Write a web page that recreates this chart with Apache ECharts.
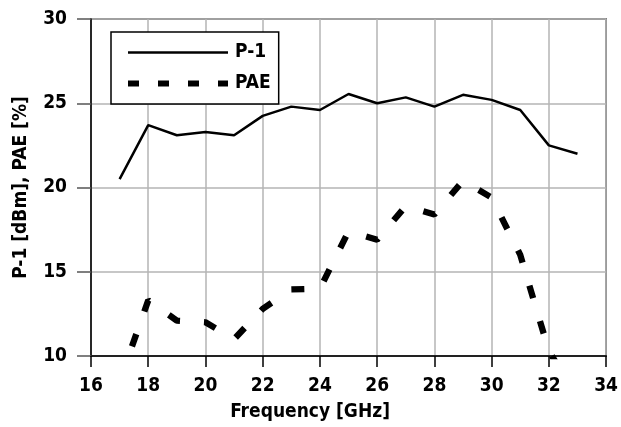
<!DOCTYPE html>
<html>
<head>
<meta charset="utf-8">
<script src="https://cdn.jsdelivr.net/npm/echarts@6/dist/echarts.min.js"></script>
<style>
html,body{margin:0;padding:0;background:#fff;}
#chart{width:621px;height:427px;}
</style>
</head>
<body>
<div id="chart"></div>
<script>
const FONT = "'DejaVu Sans Condensed', 'DejaVu Sans', sans-serif";
const WEIGHT = 'bold';

const p1Freq = [17, 18, 19, 20, 21, 22, 23, 24, 25, 26, 27, 28, 29, 30, 31, 32, 33];
const p1Values = [20.5, 23.7, 23.1, 23.3, 23.1, 24.25, 24.8, 24.6, 25.55, 25.0, 25.35, 24.8, 25.5, 25.2, 24.6, 22.5, 22.0];

const paeFreq = [17, 18, 19, 20, 21, 22, 23, 24, 25, 26, 27, 28, 29, 30, 31, 32, 33];
const paeValues = [8.5, 13.3, 12.1, 12.0, 11.0, 12.8, 13.95, 14.0, 17.4, 16.9, 18.9, 18.4, 20.4, 19.4, 16.0, 10.3, 7.5];

const xTicks = [16, 18, 20, 22, 24, 26, 28, 30, 32, 34];
const yTicks = [10, 15, 20, 25, 30];

const seriesNames = ['P-1', 'PAE'];

const pairs = (xs, ys) => xs.map((x, i) => [x, ys[i]]);

const txt = (extra) => Object.assign({fontFamily: FONT, fontWeight: WEIGHT, fontSize: 19, color: '#000'}, extra || {});

const chart = echarts.init(document.getElementById('chart'), null, {renderer: 'canvas'});
chart.setOption({
  animation: false,
  backgroundColor: '#fff',
  grid: {
    left: 91, right: 9, top: 19, bottom: 70,
    show: true, borderColor: '#333', borderWidth: 1.5, backgroundColor: 'transparent'
  },
  legend: {
    data: [
      {name: seriesNames[0], lineStyle: {width: 2.5, type: 'solid'}},
      {name: seriesNames[1], lineStyle: {width: 6, type: [11, 19], cap: 'butt'}}
    ],
    orient: 'vertical',
    left: 111, top: 32,
    padding: [11, 8, 11, 14],
    itemWidth: 100, itemHeight: 14, itemGap: 12,
    borderColor: '#000', borderWidth: 1.5,
    backgroundColor: '#fff',
    itemStyle: {opacity: 0},
    textStyle: txt({padding: [0, 0, 0, 2]})
  },
  xAxis: {
    type: 'value', min: xTicks[0], max: xTicks[xTicks.length - 1], interval: 2,
    name: 'Frequency [GHz]', nameLocation: 'middle', nameGap: 47,
    nameTextStyle: txt({padding: [0, 77, 0, 0]}),
    axisLine: {show: true, onZero: false, lineStyle: {color: '#222', width: 2}},
    axisTick: {show: true, inside: false, length: 11, lineStyle: {color: '#000', width: 1.5}},
    axisLabel: txt({margin: 21}),
    splitLine: {show: true, lineStyle: {color: '#b4b4b4', width: 1.5}}
  },
  yAxis: {
    type: 'value', min: yTicks[0], max: yTicks[yTicks.length - 1], interval: 5,
    name: 'P-1 [dBm], PAE [%]', nameLocation: 'middle', nameGap: 60, nameRotate: 90,
    nameTextStyle: txt(),
    axisLine: {show: true, onZero: false, lineStyle: {color: '#000', width: 1.5}},
    axisTick: {show: true, inside: false, length: 14, lineStyle: {color: '#555', width: 1.5}},
    axisLabel: txt({margin: 24}),
    splitLine: {show: true, lineStyle: {color: '#b4b4b4', width: 1.5}}
  },
  series: [
    {
      name: seriesNames[0], type: 'line', data: pairs(p1Freq, p1Values),
      symbol: 'none', clip: true,
      lineStyle: {color: '#000', width: 2.5, type: 'solid'},
      itemStyle: {color: '#000'}
    },
    {
      name: seriesNames[1], type: 'line', data: pairs(paeFreq, paeValues),
      symbol: 'none', clip: true,
      lineStyle: {color: '#000', width: 6.3, type: [13, 24], cap: 'butt'},
      itemStyle: {color: '#000'}
    }
  ]
});
</script>
</body>
</html>
